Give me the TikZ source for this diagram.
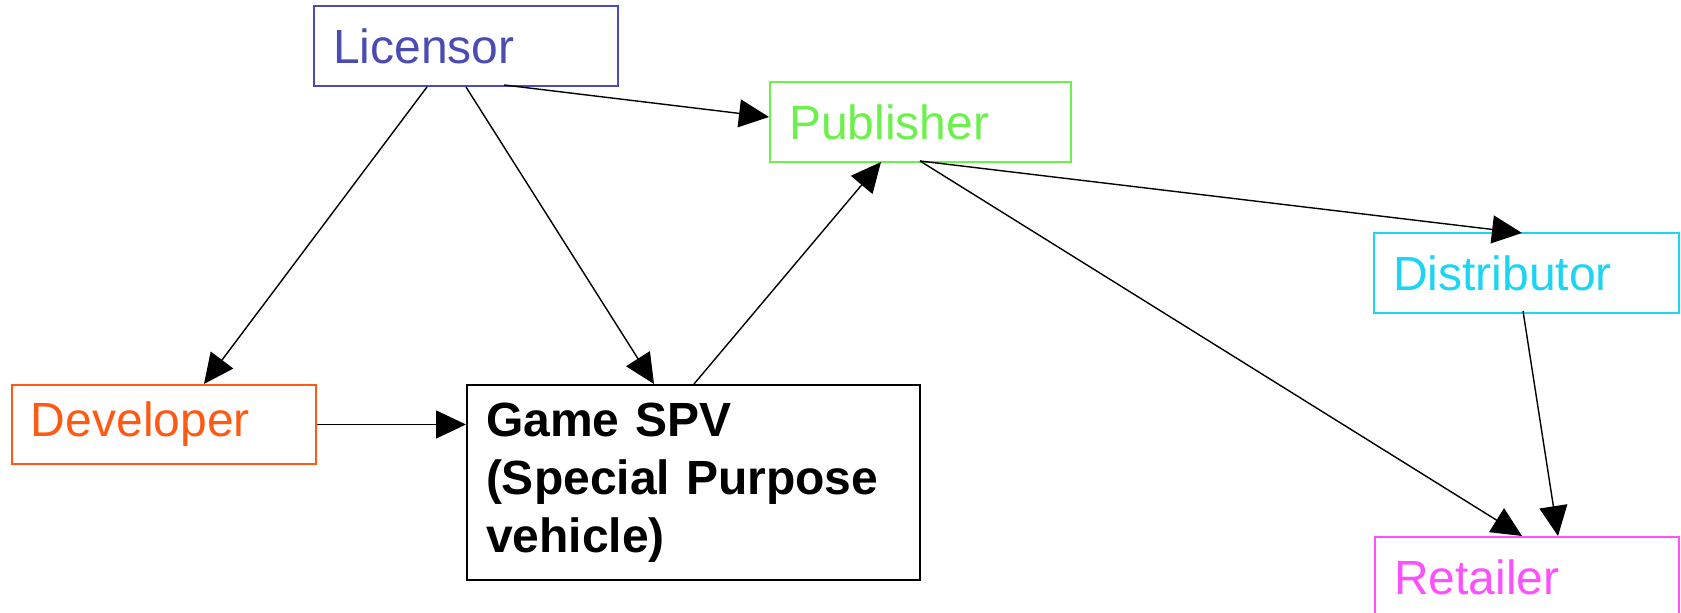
\documentclass[tikz,border=0pt]{standalone}
\usepackage{fontspec}
\setmainfont{Liberation Sans}
\usetikzlibrary{arrows.meta,calc}
\definecolor{cLic}{HTML}{4B4BB4}
\definecolor{cPub}{HTML}{6CF04C}
\definecolor{cDist}{HTML}{1CD4F4}
\definecolor{cDev}{HTML}{FF5A14}
\definecolor{cRet}{HTML}{FF50FF}
\begin{document}
\begin{tikzpicture}[x=0.5pt,y=-0.5pt,
  box/.style={draw,line width=1pt,rectangle,anchor=north west,inner ysep=0pt,inner xsep=9.5pt,
    align=left,font=\fontsize{24}{29}\selectfont},
  conn/.style={line width=0.7pt,-{Triangle[length=15pt,width=14pt]}}]
\useasboundingbox (0,0) rectangle (1681,613);
\clip (0,0) rectangle (1681,613);
\node[box,draw=cLic,text=cLic,text width=133pt,minimum height=40pt] (lic) at (313,5) {Licensor};
\node[box,draw=cPub,text=cPub,text width=131.5pt,minimum height=40pt] (pub) at (769,81) {Publisher};
\node[box,draw=cDist,text=cDist,text width=133.5pt,minimum height=40pt] (dist) at (1373,232) {Distributor};
\node[box,draw=cDev,text=cDev,text width=133pt,minimum height=39.5pt] (dev) at (11,384) {Developer};
\node[box,draw=black,text=black,text width=207.5pt,minimum height=97.5pt,font=\fontsize{24}{29}\selectfont\bfseries] (spv) at (466,384) {Game SPV\\(Special Purpose\\vehicle)};
\node[box,draw=cRet,text=cRet,text width=133pt,minimum height=40pt] (ret) at (1374,536) {Retailer};
\coordinate (pubout) at ($(pub.south west)+(151,-2)$);
\draw[conn] ($(lic.south west)+(114,0)$) -- ($(dev.north west)+(193,0)$);
\draw[conn] ($(lic.south west)+(153,0)$) -- ($(spv.north west)+(188,0)$);
\draw[conn] ($(lic.south west)+(191,-2)$) -- ($(pub.west)+(0,-5)$);
\draw[conn] ($(spv.north west)+(228,0)$) -- ($(pub.south west)+(112,-1)$);
\draw[conn] (dev.east) -- (dev.east -| spv.west);
\draw[conn] (pubout) -- ($(dist.north west)+(149,1)$);
\draw[conn] (pubout) -- ($(ret.north west)+(148,0)$);
\draw[conn] ($(dist.south west)+(150,-3)$) -- ($(ret.north west)+(184,0)$);
\end{tikzpicture}
\end{document}
